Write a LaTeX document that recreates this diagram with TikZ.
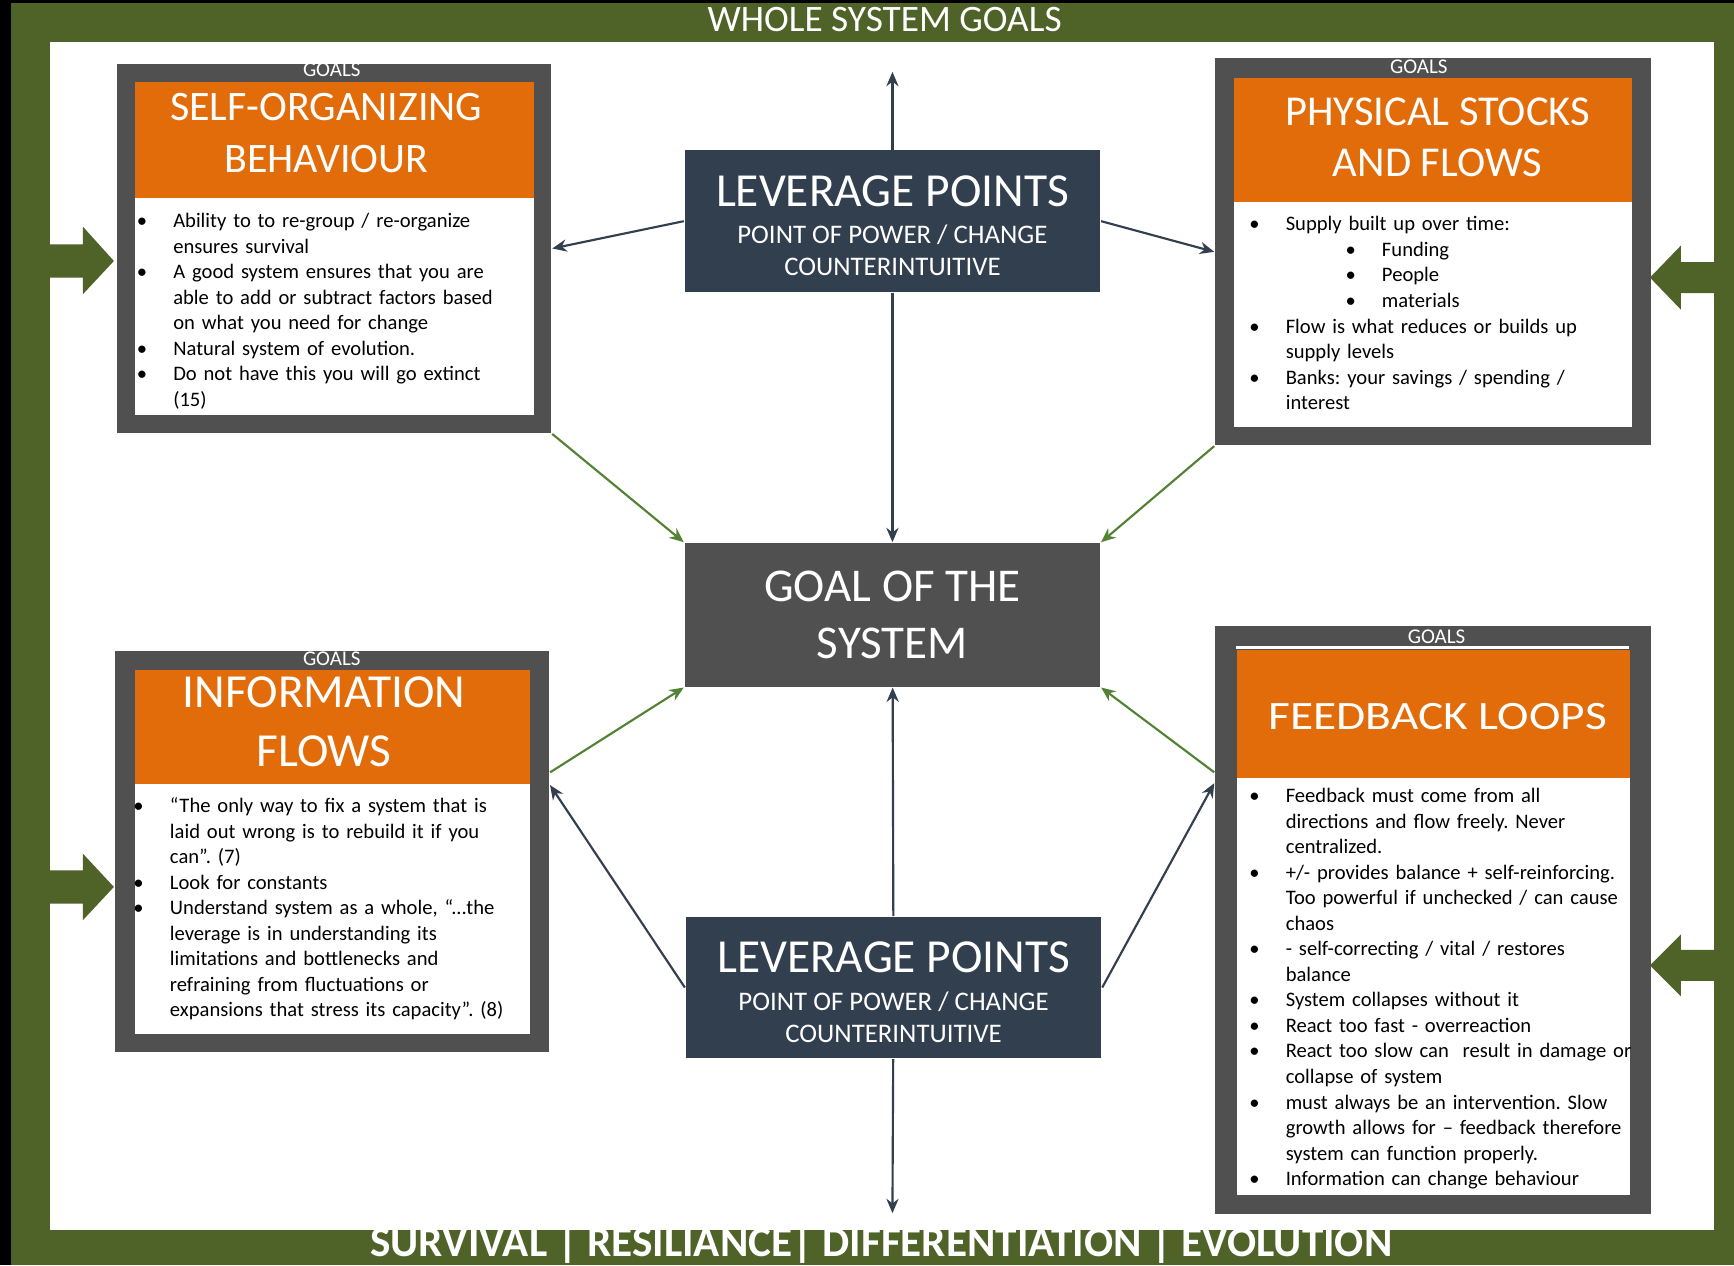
\documentclass[tikz,border=0pt]{standalone}
\usepackage{fontspec}
\usepackage{graphicx}
\setmainfont{Carlito}
\usepackage{tikz}
\usetikzlibrary{positioning,arrows.meta}

\definecolor{frameGreen}{HTML}{4F6228}
\definecolor{goalOrange}{HTML}{E36C0A}
\definecolor{boxGray}{HTML}{505050}
\definecolor{leverBlue}{HTML}{323F4F}
\definecolor{linkGreen}{HTML}{548235}

\newcommand{\bul}{\par\noindent\hangindent=3.3mm\hangafter=1\makebox[3.3mm][l]{\textbullet}}
\newcommand{\subbul}{\par\noindent\hangindent=12mm\hangafter=1\hspace*{8.7mm}\makebox[3.3mm][l]{\textbullet}}

\tikzset{
	outerbox/.style={fill=boxGray,anchor=north west,inner sep=0pt},
	headbox/.style={fill=goalOrange,anchor=north west,inner sep=0pt},
	headtext/.style={text=white,inner sep=0pt,align=center},
	bodybox/.style={fill=white,anchor=north west,inner sep=0pt},
	goalstag/.style={text=white,inner sep=0pt,font=\fontsize{5.4}{6}\selectfont},
	itemtext/.style={anchor=north west,inner sep=0pt,align=left,font=\fontsize{5.3}{6.57}\selectfont\frenchspacing},
	leverbox/.style={fill=leverBlue,text=white,inner sep=0pt,minimum width=37.6mm,minimum height=12.8mm,align=center,font=\fontsize{6.9}{8.25}\selectfont},
	link/.style={-{Stealth[length=1.3mm,width=1.1mm]},leverBlue,line width=0.55pt},
	goallink/.style={-{Stealth[length=1.3mm,width=1.1mm]},linkGreen,line width=0.55pt}
}

\begin{document}
\begin{tikzpicture}[x=0.1mm,y=-0.1mm]
	\useasboundingbox (0,0) rectangle (1568,1144);
	\fill[black] (0,0) rectangle (1568,1144);
	\fill[frameGreen] (10,3) rectangle (1568,1144);
	\fill[white] (45,38) rectangle (1550,1112);
	
	\node[text=white,inner sep=0pt,font=\fontsize{9.6}{10}\selectfont] (wsg) at (800,18) {WHOLE SYSTEM GOALS};
	\node[text=white,inner sep=0pt,anchor=base,font=\bfseries\fontsize{11.1}{12}\selectfont] (srde) at (797,1136) {SURVIVAL | RESILIANCE| DIFFERENTIATION | EVOLUTION};
	
	% side arrows
	\fill[frameGreen] (45,221) -- (75,221) -- (75,205) -- (103,236) -- (75,266) -- (75,251) -- (45,251) -- cycle;
	\fill[frameGreen] (45,787) -- (75,787) -- (75,772) -- (103,802) -- (75,832) -- (75,817) -- (45,817) -- cycle;
	\fill[frameGreen] (1550,237) -- (1520,237) -- (1520,222) -- (1492,251) -- (1520,280) -- (1520,265) -- (1550,265) -- cycle;
	\fill[frameGreen] (1550,859) -- (1520,859) -- (1520,845) -- (1492,873) -- (1520,901) -- (1520,887) -- (1550,887) -- cycle;
	
	% self-organizing behaviour
	\node[outerbox,minimum width=39.3mm,minimum height=33.4mm] (so) at (105,57) {};
	\node[headbox,minimum width=36.1mm,minimum height=10.5mm] (soH) at (121,73) {};
	\node[headtext,font=\fontsize{10.8}{13.4}\selectfont] (soHT) at (295,120.5) {SELF-ORGANIZING\\BEHAVIOUR};
	\node[bodybox,minimum width=36.1mm,minimum height=19.7mm] (soB) at (121,178) {};
	\node[goalstag] (soG) at (300,63) {GOALS};
	\node[itemtext,text width=35.5mm] (soT) at (123,182) {%
		\bul Ability to to re-group / re-organize\newline ensures survival
		\bul A good system ensures that you are\newline able to add or subtract factors based\newline on what you need for change
		\bul Natural system of evolution.
		\bul Do not have this you will go extinct\newline (15)\par};
	
	% physical stocks and flows
	\node[outerbox,minimum width=39.4mm,minimum height=35mm] (ps) at (1098,52) {};
	\node[headbox,minimum width=36mm,minimum height=11.2mm] (psH) at (1115,70) {};
	\node[headtext,font=\fontsize{10.95}{13.1}\selectfont] (psHT) at (1300,124) {PHYSICAL STOCKS\\AND FLOWS};
	\node[bodybox,minimum width=36mm,minimum height=20.3mm] (psB) at (1115,182) {};
	\node[goalstag] (psG) at (1283,60) {GOALS};
	\node[itemtext,text width=34.6mm] (psT) at (1129,185) {%
		\bul Supply built up over time:
		\subbul Funding
		\subbul People
		\subbul materials
		\bul Flow is what reduces or builds up\newline supply levels
		\bul Banks: your savings / spending /\newline interest\par};
	
	% information flows
	\node[outerbox,minimum width=39.3mm,minimum height=36.3mm] (inf) at (103,588) {};
	\node[headbox,minimum width=35.8mm,minimum height=10.3mm] (infH) at (121,605) {};
	\node[headtext,font=\fontsize{12.2}{15.1}\selectfont] (infHT) at (293,652.5) {INFORMATION\\FLOWS};
	\node[bodybox,minimum width=35.8mm,minimum height=22.6mm] (infB) at (121,708) {};
	\node[goalstag] (infG) at (300,596) {GOALS};
	\node[itemtext,text width=35.5mm] (infT) at (120,711) {%
		\bul “The only way to fix a system that is\newline laid out wrong is to rebuild it if you\newline can”. (7)
		\bul Look for constants
		\bul Understand system as a whole, “...the\newline leverage is in understanding its\newline limitations and bottlenecks and\newline refraining from fluctuations or\newline expansions that stress its capacity”. (8)\par};
	
	% feedback loops
	\node[outerbox,minimum width=39.4mm,minimum height=53.2mm] (fb) at (1098,565) {};
	\fill[white] (1118,584) rectangle (1473,587);
	\node[headbox,minimum width=35.5mm,minimum height=11.6mm] (fbH) at (1118,587) {};
	\node[headtext,font=\fontsize{12.2}{14}\selectfont] (fbHT) at (1300,648) {\scalebox{1}[0.85]{FEEDBACK LOOPS}};
	\node[bodybox,minimum width=35.5mm,minimum height=37.7mm] (fbB) at (1118,703) {};
	\node[goalstag] (fbG) at (1299,576) {GOALS};
	\node[itemtext,text width=38mm] (fbT) at (1129,702) {%
		\bul Feedback must come from all\newline directions and flow freely. Never\newline centralized.
		\bul +/- provides balance + self-reinforcing.\newline Too powerful if unchecked / can cause\newline chaos
		\bul - self-correcting / vital / restores\newline balance
		\bul System collapses without it
		\bul React too fast - overreaction
		\bul React too slow can\ \ result in damage or\newline collapse of system
		\bul must always be an intervention. Slow\newline growth allows for – feedback therefore\newline system can function properly.
		\bul Information can change behaviour\par};
	
	% centre
	\node[leverbox] (lt) at (807,200) {{\fontsize{12.2}{12.2}\selectfont\rule{0pt}{10.2pt}LEVERAGE POINTS}\\[1.45pt]POINT OF POWER / CHANGE\\COUNTERINTUITIVE};
	\node[fill=boxGray,text=white,inner sep=0pt,minimum width=37.6mm,minimum height=13mm,align=center,font=\fontsize{12.1}{14.8}\selectfont] (goal) at (807,556) {GOAL OF THE\\SYSTEM};
	\node[leverbox] (lb) at (808,893) {{\fontsize{12.2}{12.2}\selectfont\rule{0pt}{10.2pt}LEVERAGE POINTS}\\[1.45pt]POINT OF POWER / CHANGE\\COUNTERINTUITIVE};
	\coordinate (up) at (807,65);
	\coordinate (down) at (807,1097);
	
	\draw[link] (lt) -- (up);
	\draw[link] (lt.west) -- (so.east);
	\draw[link] (lt.east) -- (ps.west);
	\draw[link] (lt) -- (goal);
	\draw[goallink] (so.south east) -- (goal.north west);
	\draw[goallink] (ps.south west) -- (goal.north east);
	\draw[goallink] (inf.20) -- (goal.south west);
	\draw[goallink] (fb.146) -- (goal.south east);
	\draw[link] (lb) -- (goal);
	\draw[link] (lb.west) -- (inf.17);
	\draw[link] (lb.east) -- (fb.148);
	\draw[link] (lb) -- (down);
\end{tikzpicture}
\end{document}
